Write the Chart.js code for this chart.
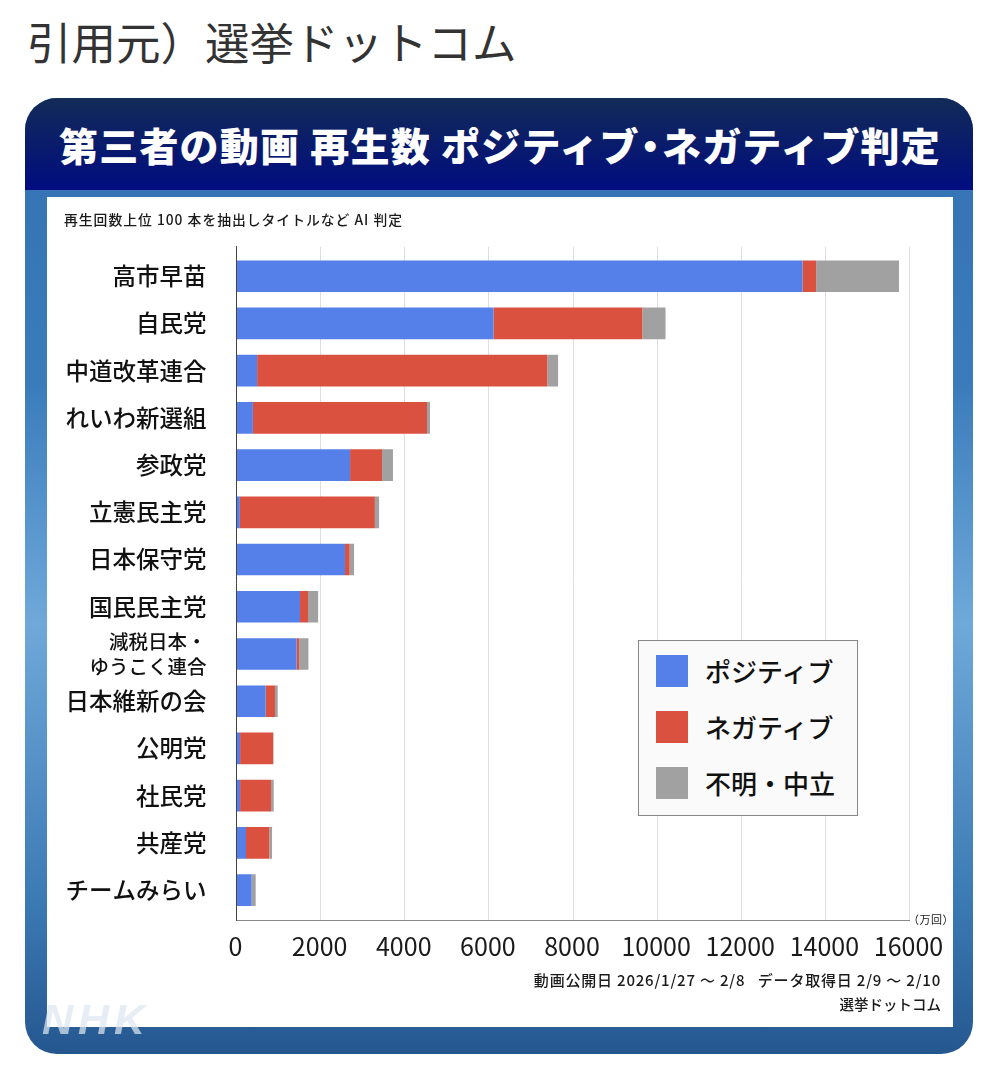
<!DOCTYPE html>
<html lang="ja">
<head>
<meta charset="utf-8" />
<title>第三者の動画 再生数</title>
<script src="https://cdn.jsdelivr.net/npm/chart.js@4"></script>
<style>
  html, body { margin: 0; padding: 0; background: #fff; width: 1000px; height: 1071px; overflow: hidden; }
  body { position: relative; font-family: "Noto Sans CJK JP", sans-serif; color: #1a1a1a; }
  body > div, canvas { position: absolute; }
  #source { left: 27px; top: 8px; font-size: 44.5px; font-weight: 400; color: #333; white-space: nowrap; line-height: 66px; }
  #frame { left: 25px; top: 98px; width: 948px; height: 956px; border-radius: 32px; overflow: hidden;
    background: linear-gradient(to bottom, #3371b4 0, #3a7cbb 30%, #6fa9da 55%, #3a78b2 85%, #25578f 100%); }
  #header { left: 0; top: 0; width: 948px; height: 92px; background: linear-gradient(to bottom, #132b57, #000c80); }
  #title { left: 34px; top: 18px; color: #fff; font-size: 39px; font-weight: 900; line-height: 56px; white-space: nowrap; }
  #title b { font-weight: 900; letter-spacing: 1.2px; }
  #title i { font-style: normal; margin: 0 -9px; }
  #panel { left: 22px; top: 99px; width: 906px; height: 830px; background: #fff; }
  #chart { left: 0; top: 0; }
  #note { left: 64px; top: 209px; font-size: 13.8px; letter-spacing: 1px; line-height: 20px; white-space: nowrap; font-weight: 500; }
  #unit { right: 46px; top: 910px; font-size: 11px; line-height: 18px; white-space: nowrap; letter-spacing: 0.5px; }
  #dates { right: 59px; top: 969px; font-size: 15px; letter-spacing: 0.8px; line-height: 22px; white-space: pre; font-weight: 500; }
  #credit { right: 59px; top: 993px; font-size: 14.5px; line-height: 22px; white-space: nowrap; font-weight: 500; }
  #nhk { left: 42px; top: 993px; font: italic bold 43px/52px "Liberation Sans", sans-serif; color: rgba(222,230,240,.72); letter-spacing: 5px; }
  #legend { left: 638px; top: 640px; width: 218px; height: 174px; background: #fafafa; border: 1px solid #888; }
  .item { position: absolute; left: 17px; height: 32px; }
  .swatch { position: absolute; left: 0; top: 0; width: 32px; height: 32px; }
  .name { position: absolute; left: 49px; top: 0; line-height: 32px; font-size: 26px; font-weight: 500; white-space: nowrap; color: #111; }
</style>
</head>
<body>
<div id="source">引用元）選挙ドットコム</div>
<div id="frame">
  <div id="header" style="position:absolute"></div>
  <div id="title" style="position:absolute"><b>第三者の動画 再生数 ポジティブ<i>・</i>ネガティブ判定</b></div>
  <div id="panel" style="position:absolute"></div>
</div>
<canvas id="chart" width="1000" height="1071"></canvas>
<div id="note">再生回数上位 100 本を抽出しタイトルなど AI 判定</div>
<div id="unit">（万回）</div>
<div id="dates">動画公開日 2026/1/27 ～ 2/8   データ取得日 2/9 ～ 2/10</div>
<div id="credit">選挙ドットコム</div>
<div id="nhk">NHK</div>
<div id="legend"></div>
<script>
const partidos = ["高市早苗", "自民党", "中道改革連合", "れいわ新選組", "参政党", "立憲民主党", "日本保守党", "国民民主党",
  ["減税日本・", "ゆうこく連合"], "日本維新の会", "公明党", "社民党", "共産党", "チームみらい"];
const positiva = [13460, 6110, 490, 390, 2700, 80, 2580, 1510, 1430, 695, 85, 85, 226, 360];
const negativa = [320, 3540, 6900, 4140, 760, 3210, 110, 190, 60, 220, 785, 735, 554, 0];
const neutral = [1970, 550, 255, 70, 260, 100, 105, 240, 220, 65, 10, 65, 65, 96];
const xTicks = [0, 2000, 4000, 6000, 8000, 10000, 12000, 14000, 16000];

const serie = (label, valores, color) => ({
  label: label,
  data: valores.map((v, i) => ({ x: v, y: i })),
  backgroundColor: color,
  grouped: false,
  categoryPercentage: 1,
  barPercentage: 0.67
});

const grafico = new Chart(document.querySelector("#chart").getContext("2d"), {
  type: "bar",
  data: {
    datasets: [
      serie("ポジティブ", positiva, "#5580e9"),
      serie("ネガティブ", negativa, "#db5140"),
      serie("不明・中立", neutral, "#a1a1a1")
    ]
  },
  options: {
    indexAxis: "y",
    responsive: false,
    animation: false,
    devicePixelRatio: 1,
    layout: { padding: { top: 246.7, right: 90.5, bottom: 90.7, left: 0 } },
    plugins: { legend: { display: false }, tooltip: { enabled: false } },
    scales: {
      x: {
        type: "linear",
        stacked: true,
        min: 0,
        max: 16000,
        afterBuildTicks: (eje) => { eje.ticks = xTicks.map((v) => ({ value: v })); },
        afterFit: (eje) => { eje.height = 60; },
        grid: { color: "#dedede", lineWidth: 1, drawTicks: false },
        border: { color: "#888", width: 1 },
        ticks: {
          color: "#1a1a1a",
          padding: 11,
          maxRotation: 0,
          autoSkip: false,
          labelOffset: -1,
          font: { family: "'Noto Sans CJK JP'", size: 25 },
          callback: (v) => String(v)
        }
      },
      y: {
        type: "linear",
        reverse: true,
        offset: false,
        min: -0.625,
        max: 13.64,
        afterBuildTicks: (eje) => { eje.ticks = partidos.map((p, i) => ({ value: i })); },
        afterFit: (eje) => { eje.width = 236.5; },
        grid: { display: false, drawTicks: false, offset: false },
        border: { display: true, color: "#444", width: 1 },
        ticks: {
          color: "#111",
          padding: 30,
          autoSkip: false,
          font: (ctx) => ({
            family: "'Noto Sans CJK JP'",
            weight: "500",
            size: Array.isArray(partidos[ctx.index]) ? 19.5 : 23.5,
            lineHeight: 1.25
          }),
          callback: (v) => partidos[v]
        }
      }
    }
  }
});

// leyenda fuera del canvas, sale de los mismos datasets
const leyenda = document.querySelector("#legend");
grafico.data.datasets.forEach((d, i) => {
  const item = document.createElement("div");
  item.className = "item";
  item.style.top = (14 + i * 56) + "px";
  item.innerHTML = '<span class="swatch" style="background:' + d.backgroundColor + '"></span><span class="name">' + d.label + "</span>";
  leyenda.appendChild(item);
});
</script>
</body>
</html>
